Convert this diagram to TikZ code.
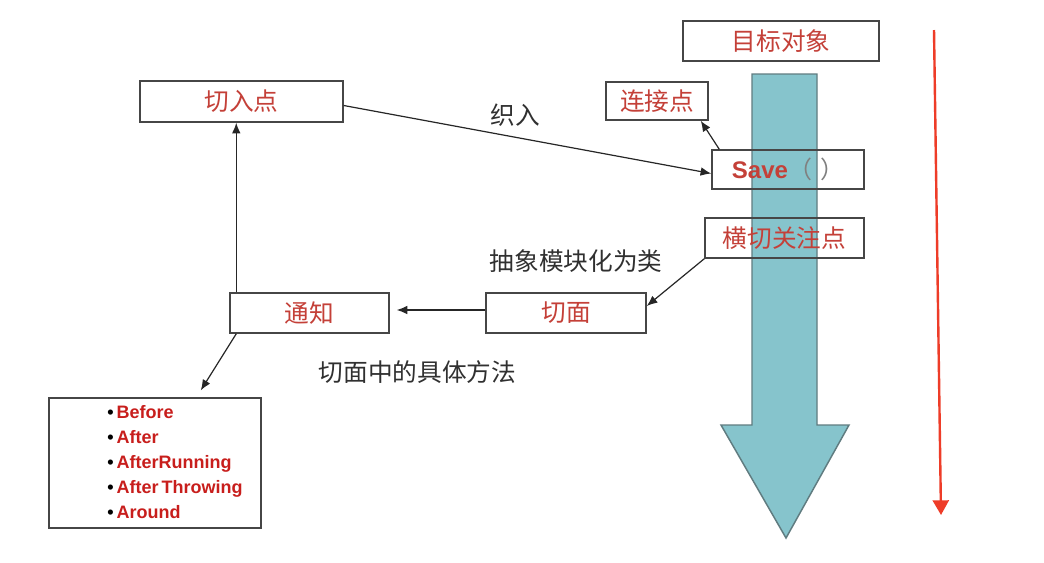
\documentclass[tikz,border=0pt]{standalone}
\usepackage{fontspec}
\setmainfont{Liberation Sans}
\newfontfamily\cjk{Noto Sans CJK SC}
\usetikzlibrary{arrows.meta,calc}
\definecolor{boxred}{RGB}{196,64,56}
\definecolor{listred}{RGB}{200,30,28}
\definecolor{labgray}{RGB}{48,48,48}
\definecolor{boxline}{RGB}{70,70,70}
\definecolor{teal}{RGB}{134,196,204}
\definecolor{tealline}{RGB}{96,124,128}
\definecolor{arrred}{RGB}{238,60,40}
\def\px{0.75pt}
\tikzset{
  box/.style={draw=boxline, line width=1.1pt, inner sep=0pt, text=boxred,
    font=\cjk\fontsize{18.5}{22}\selectfont},
  lab/.style={text=labgray, inner sep=0pt, font=\cjk\fontsize{18.5}{22}\selectfont},
  conn/.style={draw=black!85, line width=0.9pt, -{Latex[length=8pt,width=6.5pt]}},
  bigarrow/.style={fill=teal, draw=tealline, line width=1.1pt, line join=miter},
  redarrow/.style={draw=arrred, line width=1.8pt, -{Triangle[length=11pt,width=12pt]}}
}
\begin{document}
\begin{tikzpicture}[x=0.75pt,y=-0.75pt]
\useasboundingbox[fill=white] (0,0) rectangle (1044,562);
% big teal arrow
\draw[bigarrow] (752,74) -- (817,74) -- (817,425) -- (849,425) -- (786,538) -- (721,425) -- (752,425) -- cycle;
% red arrow
\coordinate (rtop) at (934,30);
\coordinate (rbot) at (941,515);
\draw[redarrow] (rtop) -- (rbot);
% boxes
\node[box, minimum width=196*\px, minimum height=40*\px] (target) at (781,41) {目标对象};
\node[box, minimum width=102*\px, minimum height=38*\px] (join) at (657,101) {连接点};
\node[box, minimum width=152*\px, minimum height=39*\px] (save) at (788,169.5)
  {\fontspec{Liberation Sans}\bfseries\fontsize{18}{22}\selectfont Save{\cjk\mdseries\color{gray}（\hspace{6pt}）}};
\node[box, minimum width=159*\px, minimum height=40*\px] (cross) at (784.5,238) {横切关注点};
\node[box, minimum width=203*\px, minimum height=41*\px] (pointcut) at (241.5,101.5) {切入点};
\node[box, minimum width=159*\px, minimum height=40*\px] (advice) at (309.5,313) {通知};
\node[box, minimum width=160*\px, minimum height=40*\px] (aspect) at (566,313) {切面};
\node[box, minimum width=212*\px, minimum height=130*\px] (list) at (155,463) {};
\node[anchor=west, inner sep=0pt, align=left, font=\fontsize{13.5}{18.6}\selectfont\bfseries] (items) at (107,462)
  {\textcolor{black}{\textbullet}\,\textcolor{listred}{Before}\\
   \textcolor{black}{\textbullet}\,\textcolor{listred}{After}\\
   \textcolor{black}{\textbullet}\,\textcolor{listred}{AfterRunning}\\
   \textcolor{black}{\textbullet}\,\textcolor{listred}{After\,Throwing}\\
   \textcolor{black}{\textbullet}\,\textcolor{listred}{Around}};
% labels
\node[lab] (weave) at (515,115) {织入};
\node[lab] (abstr) at (576,261) {抽象模块化为类};
\node[lab] (method) at (417.5,372.5) {切面中的具体方法};
% connectors
\draw[conn] ([yshift=-4*\px]pointcut.east) -- ([yshift=-4*\px]save.west);
\draw[conn] ([xshift=8*\px]save.north west) -- ([xshift=-8*\px]join.south east);
\draw[conn] (cross.south west) -- ([yshift=7*\px]aspect.east);
\draw[conn, shorten >=7*\px] ([yshift=3*\px]aspect.west) -- ([yshift=3*\px]advice.east);
\coordinate (up) at ([xshift=7*\px]advice.north west);
\draw[conn] (up) -- (up |- pointcut.south);
\coordinate (dn) at ([xshift=7*\px]advice.south west);
\draw[conn, shorten >=9*\px] (dn) -- (196,398);
\end{tikzpicture}
\end{document}
